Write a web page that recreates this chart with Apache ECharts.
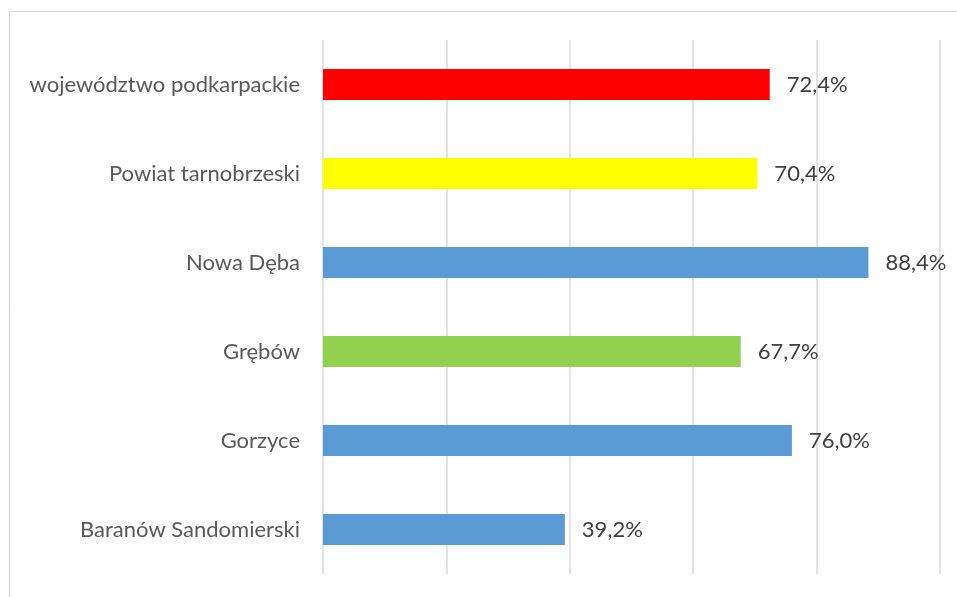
<!DOCTYPE html>
<html>
<head>
<meta charset="utf-8">
<script src="https://cdn.jsdelivr.net/npm/echarts@6/dist/echarts.min.js"></script>
<style>
  html, body { margin: 0; padding: 0; background: #fff; }
  #chart { width: 957px; height: 597px; }
</style>
</head>
<body>
<div id="chart"></div>
<script>
// Categories listed bottom to top (category axis runs upward)
const categories = [
  'Baranów Sandomierski',
  'Gorzyce',
  'Grębów',
  'Nowa Dęba',
  'Powiat tarnobrzeski',
  'województwo podkarpackie'
];
const values = [39.2, 76.0, 67.7, 88.4, 70.4, 72.4];
const barColors = ['#5b9bd5', '#5b9bd5', '#92d050', '#5b9bd5', '#ffff00', '#ff0000'];

const chart = echarts.init(document.getElementById('chart'));
chart.setOption({
  animation: false,
  backgroundColor: '#fff',
  graphic: [{
    type: 'rect',
    shape: { x: 9.5, y: 11.5, width: 960, height: 600 },
    style: { fill: 'none', stroke: '#d9d9d9', lineWidth: 1 },
    silent: true
  }],
  grid: { left: 323, right: 17, top: 40, bottom: 23 },
  xAxis: {
    type: 'value',
    min: 0,
    max: 100,
    interval: 20,
    axisLabel: { show: false },
    axisLine: { show: false },
    axisTick: { show: false },
    splitLine: { show: true, lineStyle: { color: '#d9d9d9', width: 1.5 } }
  },
  yAxis: {
    type: 'category',
    data: categories,
    axisLine: { show: false },
    axisTick: { show: false },
    axisLabel: {
      margin: 23,
      color: '#595959',
      fontFamily: 'Lato',
      fontSize: 22
    }
  },
  series: [{
    type: 'bar',
    data: values.map((v, i) => ({ value: v, itemStyle: { color: barColors[i] } })),
    barWidth: '35%',
    label: {
      show: true,
      position: 'right',
      distance: 17,
      color: '#404040',
      fontFamily: 'Lato',
      fontSize: 22,
      formatter: p => p.value.toFixed(1).replace('.', ',') + '%'
    }
  }]
});
</script>
</body>
</html>
